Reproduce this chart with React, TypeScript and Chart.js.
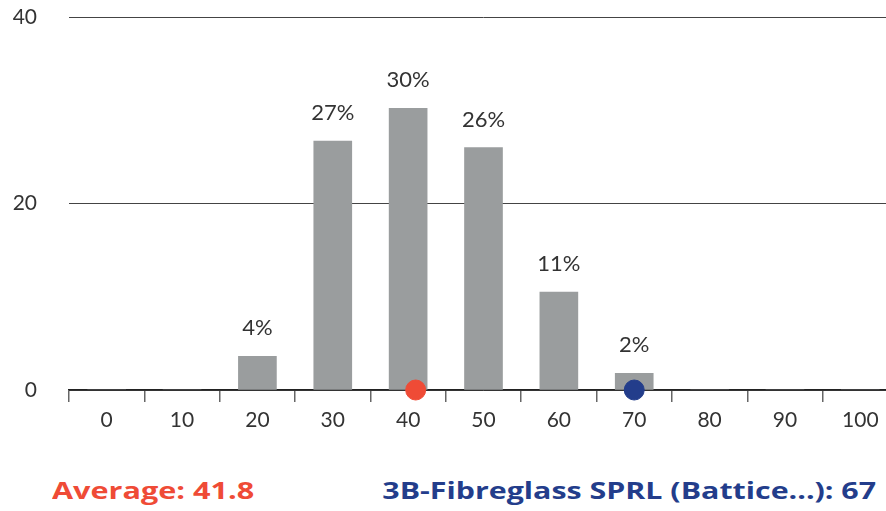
import React, { useEffect, useRef } from "react";
import { Chart, registerables } from "chart.js";

Chart.register(...registerables);

const categories = ["0", "10", "20", "30", "40", "50", "60", "70", "80", "90", "100"];
const barValues = [0, 0, 3.6, 26.7, 30.2, 26.0, 10.5, 1.8, 0, 0, 0];
const pctLabels = ["", "", "4%", "27%", "30%", "26%", "11%", "2%", "", "", ""];
const yTicks = [0, 20, 40];
const averageDotX = 41;
const companyDotX = 70;
const averageText = "Average: 41.8";
const companyText = "3B-Fibreglass SPRL (Battice...): 67";

const FONT = "Lato, 'Noto Sans', sans-serif";
const BOLD_FONT = "'Open Sans', Lato, sans-serif";
const RED = "#ef4b36";
const BLUE = "#233d8b";
const BAR = "#9a9d9e";

const labelPlugin = {
  id: "barLabels",
  afterDatasetsDraw(chart: any) {
    const meta = chart.getDatasetMeta(1);
    const ctx = chart.ctx;
    ctx.save();
    ctx.font = `22px ${FONT}`;
    ctx.fillStyle = "#333";
    ctx.textAlign = "center";
    ctx.textBaseline = "alphabetic";
    meta.data.forEach((bar: any, i: number) => {
      const t = pctLabels[i];
      if (!t) return;
      ctx.fillText(t, bar.x, bar.y - 21);
    });
    ctx.restore();
  },
};

export default function App() {
  const ref = useRef<HTMLCanvasElement | null>(null);
  useEffect(() => {
    if (!ref.current) return;
    const chart = new Chart(ref.current, {
      type: "bar",
      data: {
        labels: categories,
        datasets: [
          {
            type: "scatter" as any,
            data: [
              { x: averageDotX, y: 0 },
              { x: companyDotX, y: 0 },
            ],
            xAxisID: "x2",
            yAxisID: "y",
            backgroundColor: [RED, BLUE],
            borderColor: [RED, BLUE],
            pointRadius: 10,
            pointHoverRadius: 10,
            clip: false as any,
            order: 0,
          } as any,
          {
            type: "bar",
            data: barValues,
            xAxisID: "x",
            yAxisID: "y",
            backgroundColor: BAR,
            barThickness: 38,
            grouped: false,
            order: 1,
          },
        ],
      },
      options: {
        animation: false,
        responsive: false,
        events: [],
        layout: { autoPadding: false, padding: { top: 17, right: 0, bottom: 5, left: 0 } },
        plugins: { legend: { display: false }, tooltip: { enabled: false } },
        scales: {
          x: {
            type: "category",
            position: "bottom",
            offset: true,
            grid: {
              offset: true,
              drawOnChartArea: false,
              drawTicks: true,
              tickLength: 12,
              color: "#666",
              lineWidth: 1.5,
            },
            border: { display: true, color: "#222", width: 1.5 },
            ticks: { font: { family: FONT, size: 21 }, color: "#333", padding: 6, maxRotation: 0, autoSkip: false },
            afterFit(scale: any) {
              scale.height = 45;
              scale.paddingLeft = 0;
              scale.paddingRight = 0;
            },
          },
          x2: {
            type: "linear",
            position: "bottom",
            display: true,
            offset: false,
            min: -5,
            max: 105,
            grid: { display: false, drawTicks: false, offset: false },
            border: { display: false },
            ticks: { display: false },
            afterFit(scale: any) {
              scale.height = 0;
              scale.paddingLeft = 0;
              scale.paddingRight = 0;
            },
          },
          y: {
            position: "left",
            min: 0,
            max: 40,
            afterBuildTicks(scale: any) {
              scale.ticks = yTicks.map((v) => ({ value: v }));
            },
            grid: { drawTicks: false, color: "#444", lineWidth: 1 },
            border: { display: false },
            ticks: { font: { family: FONT, size: 21 }, color: "#333", padding: 32 },
            afterFit(scale: any) {
              scale.width = 69;
              scale.paddingTop = 0;
              scale.paddingBottom = 0;
            },
          },
        },
      },
      plugins: [labelPlugin],
    });
    return () => chart.destroy();
  }, []);

  const textStyle = {
    position: "absolute" as const,
    top: 473,
    fontFamily: BOLD_FONT,
    fontWeight: 700,
    fontSize: 23,
    whiteSpace: "nowrap" as const,
    lineHeight: "34px",
  };

  return (
    <div style={{ position: "absolute", left: 0, top: 0, width: 886, height: 511, background: "#fff", overflow: "hidden" }}>
      <canvas ref={ref} width={898} height={440} style={{ display: "block" }} />
      <div style={{ ...textStyle, left: 52, color: RED, transform: "scaleX(1.33)", transformOrigin: "left top" }}>
        {averageText}
      </div>
      <div style={{ ...textStyle, right: 10, color: BLUE, transform: "scaleX(1.32)", transformOrigin: "right top" }}>
        {companyText}
      </div>
    </div>
  );
}
